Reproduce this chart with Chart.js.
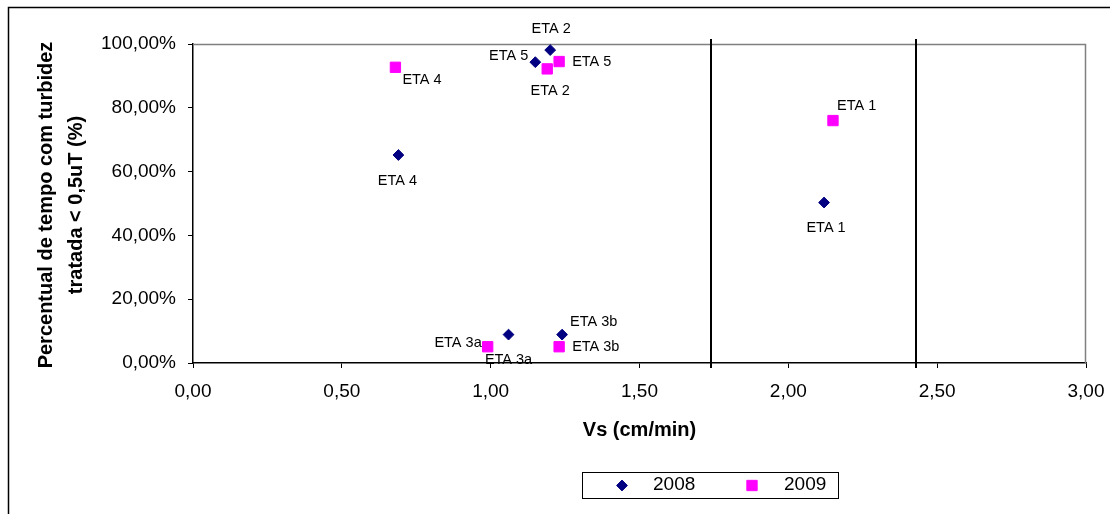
<!DOCTYPE html>
<html>
<head>
<meta charset="utf-8">
<script src="https://cdn.jsdelivr.net/npm/chart.js@4/dist/chart.umd.min.js"></script>
<style>
  html, body { margin: 0; padding: 0; background: #fff; }
  #wrap { position: relative; width: 1110px; height: 514px; }
</style>
</head>
<body>
<div id="wrap"><canvas id="c" width="1110" height="514"></canvas></div>
<script>
// Stations and their settling velocity (cm/min) vs share of time with treated turbidity < 0,5 uT
const stations = ['ETA 1', 'ETA 2', 'ETA 3a', 'ETA 3b', 'ETA 4', 'ETA 5'];
const vs2008  = [2.12, 1.20, 1.06, 1.24, 0.69, 1.15];
const pct2008 = [50.3, 98.1, 8.9, 8.9, 65.2, 94.3];
const vs2009  = [2.15, 1.19, 0.99, 1.23, 0.68, 1.23];
const pct2009 = [76.0, 92.2, 5.1, 5.1, 92.7, 94.5];
const seriesNames = ['2008', '2009'];
// Reference velocities drawn as vertical lines
const limitVs = [1.74, 2.43];

// Label offsets (px) relative to each point: [dx, dy, align]
const labelPlace2008 = [[2, 25, 'center'], [1, -21, 'center'], [0, 25, 'center'], [8, -13, 'left'], [-1, 26, 'center'], [-7, -6, 'right']];
const labelPlace2009 = [[4, -15, 'left'], [3, 22, 'center'], [-6, -4, 'right'], [13, 0, 'left'], [7, 13, 'left'], [13, 0, 'left']];

const FONT = '"Liberation Sans", Arial, sans-serif';
const comma = (v, d) => v.toFixed(d).replace('.', ',');

const toPoints = (xs, ys) => xs.map((x, i) => ({ x: x, y: ys[i] }));

const decor = {
  id: 'decor',
  beforeDatasetsDraw(chart) {
    const ctx = chart.ctx, xs = chart.scales.x, ys = chart.scales.y, a = chart.chartArea;
    ctx.save();
    // plot frame: top and right edges
    ctx.strokeStyle = '#808080';
    ctx.lineWidth = 1.5;
    ctx.beginPath();
    ctx.moveTo(a.left, a.top + 0.5);
    ctx.lineTo(a.right - 0.5, a.top + 0.5);
    ctx.lineTo(a.right - 0.5, a.bottom);
    ctx.stroke();
    // reference velocity lines
    ctx.strokeStyle = '#000';
    ctx.lineWidth = 2;
    limitVs.forEach(v => {
      const px = Math.round(xs.getPixelForValue(v));
      ctx.beginPath();
      ctx.moveTo(px, ys.top - 5);
      ctx.lineTo(px, ys.bottom + 5);
      ctx.stroke();
    });
    ctx.restore();
  },
  afterDatasetsDraw(chart) {
    const ctx = chart.ctx, xs = chart.scales.x, ys = chart.scales.y, a = chart.chartArea;
    ctx.save();
    // point labels
    ctx.fillStyle = '#000';
    ctx.font = '14.5px ' + FONT;
    ctx.textBaseline = 'middle';
    const drawLabels = (vx, vy, place) => {
      stations.forEach((name, i) => {
        const px = xs.getPixelForValue(vx[i]);
        const py = ys.getPixelForValue(vy[i]);
        const p = place[i];
        ctx.textAlign = p[2];
        ctx.fillText(name, px + p[0], py + p[1]);
      });
    };
    drawLabels(vs2008, pct2008, labelPlace2008);
    drawLabels(vs2009, pct2009, labelPlace2009);

    // axis titles
    ctx.font = 'bold 20px ' + FONT;
    ctx.textAlign = 'center';
    ctx.fillText('Vs (cm/min)', (a.left + a.right) / 2, 430);
    ctx.save();
    ctx.translate(46, 205);
    ctx.rotate(-Math.PI / 2);
    ctx.fillText('Percentual de tempo com turbidez', 0, 0);
    ctx.restore();
    ctx.save();
    ctx.translate(76, 205);
    ctx.rotate(-Math.PI / 2);
    ctx.fillText('tratada < 0,5uT (%)', 0, 0);
    ctx.restore();

    // legend
    ctx.strokeStyle = '#000';
    ctx.lineWidth = 1;
    ctx.strokeRect(582.5, 472.5, 256, 26);
    const legendX = [[622, 653], [752, 784]];
    chart.data.datasets.forEach((ds, i) => {
      ctx.fillStyle = ds.backgroundColor;
      ctx.strokeStyle = ds.borderColor;
      ctx.lineWidth = ds.borderWidth;
      Chart.helpers.drawPoint(ctx, { pointStyle: ds.pointStyle, radius: ds.pointRadius, rotation: 0, borderWidth: ds.borderWidth }, legendX[i][0], 485.5);
      ctx.fillStyle = '#000';
      ctx.font = '19px ' + FONT;
      ctx.textAlign = 'left';
      ctx.fillText(ds.label, legendX[i][1], 485);
    });

    // outer frame
    ctx.strokeStyle = '#000';
    ctx.lineWidth = 1.5;
    ctx.strokeRect(8.5, 7.5, 1300, 1000);
    ctx.restore();
  }
};

new Chart(document.getElementById('c'), {
  type: 'scatter',
  data: {
    datasets: [
      {
        label: seriesNames[0],
        data: toPoints(vs2008, pct2008),
        pointStyle: 'rectRot',
        pointRadius: 5.4,
        backgroundColor: '#000080',
        borderColor: '#000080',
        borderWidth: 1
      },
      {
        label: seriesNames[1],
        data: toPoints(vs2009, pct2009),
        pointStyle: 'rect',
        pointRadius: 7.3,
        backgroundColor: '#FF00FF',
        borderColor: '#FF00FF',
        borderWidth: 1
      }
    ]
  },
  options: {
    responsive: false,
    animation: false,
    events: [],
    layout: { padding: { top: 44, right: 24, left: 0, bottom: 0 } },
    plugins: { legend: { display: false }, tooltip: { enabled: false } },
    scales: {
      x: {
        type: 'linear',
        min: 0, max: 3,
        ticks: {
          stepSize: 0.5,
          maxRotation: 0,
          padding: 12,
          color: '#000',
          font: { family: FONT, size: 19 },
          callback: v => comma(v, 2)
        },
        grid: { drawOnChartArea: false, drawTicks: true, tickLength: 5, tickColor: '#000', tickWidth: 1 },
        border: { display: true, color: '#000', width: 1.5 },
        afterFit: s => { s.height = 151; s.paddingLeft = 0; s.paddingRight = 0; }
      },
      y: {
        type: 'linear',
        min: 0, max: 100,
        ticks: {
          stepSize: 20,
          padding: 12,
          color: '#000',
          font: { family: FONT, size: 19 },
          callback: v => comma(v, 2) + '%'
        },
        grid: { drawOnChartArea: false, drawTicks: true, tickLength: 5, tickColor: '#000', tickWidth: 1 },
        border: { display: true, color: '#000', width: 1.5 },
        afterFit: s => { s.width = 193; s.paddingTop = 0; s.paddingBottom = 0; }
      }
    }
  },
  plugins: [decor]
});
</script>
</body>
</html>
